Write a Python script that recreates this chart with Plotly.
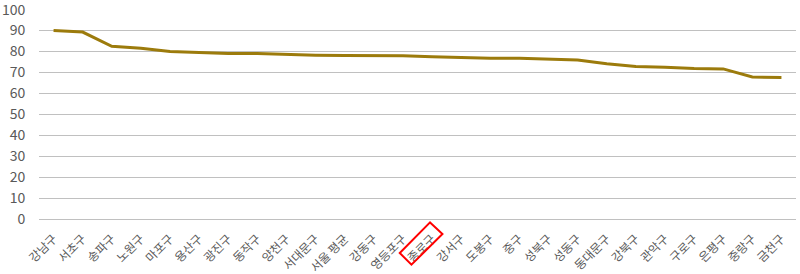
import plotly.graph_objects as go

districts = ["강남구", "서초구", "송파구", "노원구", "마포구", "용산구", "광진구", "동작구",
             "양천구", "서대문구", "서울 평균", "강동구", "영등포구", "종로구", "강서구", "도봉구",
             "중구", "성북구", "성동구", "동대문구", "강북구", "관악구", "구로구", "은평구",
             "중랑구", "금천구"]
values = [90.0, 89.3, 82.5, 81.6, 80.0, 79.4, 79.1, 79.0,
          78.5, 78.2, 78.1, 78.0, 78.0, 77.5, 77.0, 76.8,
          76.8, 76.5, 75.9, 74.1, 72.8, 72.5, 71.9, 71.7,
          67.8, 67.6]
y_min, y_max, y_step = 0, 100, 10
highlight = "종로구"

fig = go.Figure()
fig.add_trace(go.Scatter(
    x=districts, y=values, mode="lines",
    line=dict(color="#9c7b0c", width=3),
    hoverinfo="x+y", showlegend=False,
))

hi = districts.index(highlight)
fig.add_shape(
    type="path", xref="paper", yref="paper",
    xsizemode="pixel", ysizemode="pixel",
    xanchor=(hi + 0.5) / len(districts), yanchor=0,
    path="M -2,-3.4 L 10.4,-15 L -20.6,-45.7 L -32.3,-34 Z",
    line=dict(color="#ff0000", width=2), fillcolor="rgba(0,0,0,0)",
)

fig.update_layout(
    width=800, height=274,
    margin=dict(l=39, r=4, t=9, b=55),
    plot_bgcolor="white", paper_bgcolor="white",
    font=dict(family="Noto Sans CJK KR", color="#595959"),
    xaxis=dict(
        type="category", range=[-0.5, len(districts) - 0.5], automargin=False,
        tickangle=-45, tickfont=dict(size=12, color="#595959"),
        showgrid=False, showline=False, zeroline=False,
        ticks="outside", ticklen=7, tickcolor="rgba(0,0,0,0)",
        ticklabeloverflow="allow",
    ),
    yaxis=dict(
        type="linear", range=[y_min, y_max + 0.3], automargin=False,
        tickmode="linear", tick0=y_min, dtick=y_step,
        tickfont=dict(size=14, color="#595959"),
        showgrid=True, gridcolor="#c0c0c0", gridwidth=1,
        zeroline=True, zerolinecolor="#c0c0c0", zerolinewidth=1,
        showline=False, ticks="outside", ticklen=10, tickcolor="rgba(0,0,0,0)",
        ticklabeloverflow="allow",
    ),
)

fig.write_html("out.html")
